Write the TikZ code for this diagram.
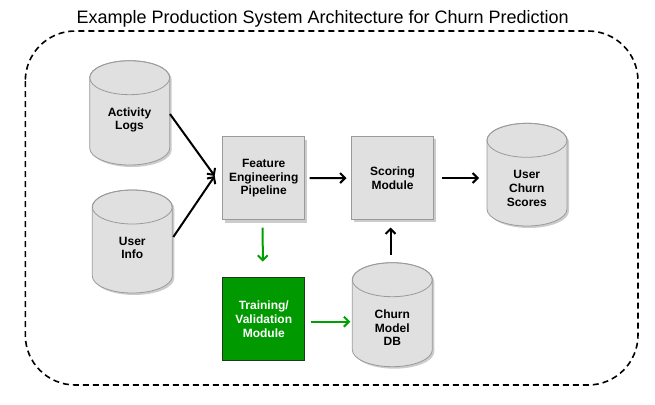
\documentclass[tikz,border=0pt]{standalone}
\usepackage{fontspec}
\setmainfont{Liberation Sans}
\usetikzlibrary{arrows.meta,calc}
\definecolor{boxfill}{HTML}{E0E0E0}
\definecolor{boxline}{HTML}{9A9A9A}
\definecolor{tgreen}{HTML}{009900}
\definecolor{agreen}{HTML}{00A000}
\definecolor{tvline}{HTML}{1E3A1E}
\tikzset{
  nodefont/.style={font=\bfseries\fontsize{12}{13.8}\selectfont},
  procbox/.style={nodefont, draw=boxline, fill=boxfill, line width=0.8pt,
    minimum width=82pt, minimum height=83pt, inner sep=0pt, outer sep=0pt, align=center},
  trainbox/.style={procbox, draw=tvline, fill=tgreen, text=white},
  shadowfill/.style={fill=black, opacity=0.2},
  cylbody/.style={fill=boxfill, draw=boxline, line width=0.8pt},
  cylline/.style={draw=boxline, line width=0.8pt},
  cylnode/.style={minimum width=80pt, minimum height=104pt, inner sep=0pt, outer sep=0pt},
  dbtext/.style={nodefont, align=center, inner sep=0pt},
  flow/.style={line width=2pt, -{Straight Barb[length=5pt,width=10pt]}},
  gflow/.style={flow, draw=agreen, color=agreen},
  frame/.style={draw=black, line width=1.6pt, dash pattern=on 6pt off 4pt, rounded corners=50pt}
}
% #1 name, #2 cx, #3 top, #4 bottom
\newcommand{\dbcyl}[4]{%
  \fill[shadowfill] ({#2-40+2},{#3+17+2}) -- ({#2-40+2},{#4-17+2})
    arc[start angle=180,end angle=360,x radius=40pt,y radius=17pt]
    -- ({#2+40+2},{#3+17+2})
    arc[start angle=0,end angle=180,x radius=40pt,y radius=17pt] -- cycle;
  \path[cylbody] ({#2-40},{#3+17}) -- ({#2-40},{#4-17})
    arc[start angle=180,end angle=360,x radius=40pt,y radius=17pt]
    -- ({#2+40},{#3+17})
    arc[start angle=0,end angle=180,x radius=40pt,y radius=17pt] -- cycle;
  \draw[cylline] (#2,{#3+17}) ellipse[x radius=40pt,y radius=17pt];
  \node[cylnode] (#1) at (#2,{(#3+#4)/2}) {};
}
\begin{document}
\begin{tikzpicture}[x=1pt,y=-1pt]
\useasboundingbox (0,0) rectangle (655,404);

% title and frame
\node[font=\fontsize{18}{21}\selectfont, anchor=base, inner sep=0pt] (title) at (322.7,24)
  {Example Production System Architecture for Churn Prediction};
\draw[frame] (25.3,31) rectangle (638,385);

% databases
\dbcyl{al}{129.7}{60.7}{165}
\node[dbtext] (alt) at (129.5,120) {Activity\\Logs};
\dbcyl{ui}{132.3}{190}{293}
\node[dbtext] (uit) at (132.3,248) {User\\Info};
\dbcyl{ucs}{527}{123.3}{226}
\node[dbtext] (ucst) at (526.8,188.3) {User\\Churn\\Scores};
\dbcyl{cmdb}{392.3}{262.7}{366.7}
\node[dbtext] (cmdbt) at (392.3,327.7) {Churn\\Model\\DB};

% process boxes (with shadows)
\fill[shadowfill] (224.7,139.7) rectangle (306.7,222.7);
\node[procbox] (fe) at (263.7,178.2) {Feature\\Engineering\\Pipeline};
\fill[shadowfill] (353.5,138.5) rectangle (435.5,221.5);
\node[procbox] (sm) at (392.5,178) {Scoring\\Module};
\node[trainbox] (tv) at (263.8,319.2) {Training/\\Validation\\Module};

% connectors
\coordinate (cv) at ($(fe.west)+(-8,-2.2)$);
\draw[flow] ($(al.east)+(0.3,1.2)$) -- (cv);
\draw[flow] ($(ui.east)+(1,-4.5)$) -- (cv);
\draw[flow, shorten <=5pt, shorten >=5pt] (fe.east) -- (sm.west);
\draw[flow, shorten <=8pt, shorten >=8pt] (sm.east) -- (sm.east -| ucs.west);
\draw[gflow, shorten <=8pt, shorten >=16pt] ([xshift=-1pt]fe.south) -- ([xshift=-1pt]tv.north);
\draw[gflow, shorten <=6pt, shorten >=2pt] ([yshift=-2.5pt]tv.east) -- ([yshift=-2.5pt]tv.east -| cmdb.west);
\draw[flow, shorten <=8pt, shorten >=8pt] ([xshift=-1.8pt]cmdb.north) -- ([xshift=-1.8pt]cmdb.north |- sm.south);
\end{tikzpicture}
\end{document}
